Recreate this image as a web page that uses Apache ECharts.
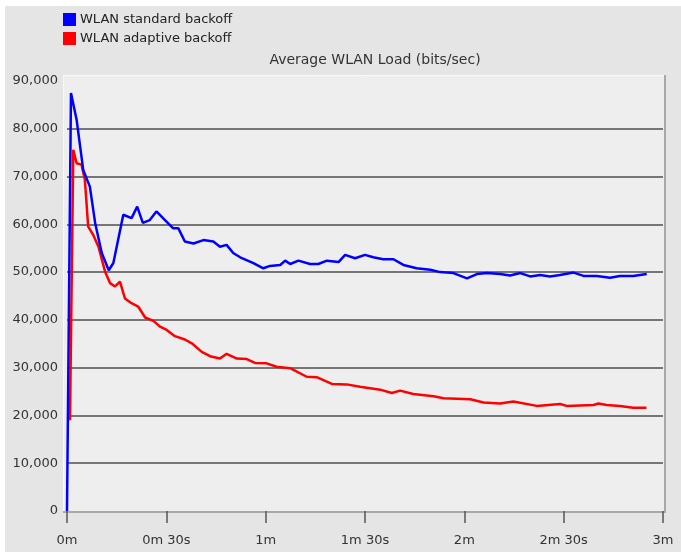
<!DOCTYPE html>
<html>
<head>
<meta charset="utf-8">
<title>Average WLAN Load</title>
<script src="https://cdn.jsdelivr.net/npm/echarts@6/dist/echarts.min.js"></script>
<style>
  html, body { margin: 0; padding: 0; background: #fff; }
  #chart { width: 681px; height: 552px; }
</style>
</head>
<body>
<div id="chart"></div>
<script>
const seriesNames = ['WLAN standard backoff', 'WLAN adaptive backoff']

// time in seconds, load in bits/sec
const standardTimes = [0, 1.2, 2.9, 4.9, 6.9, 8.5, 10.5, 12.6, 14, 17, 19.5, 21.2, 22.9, 25, 27, 29.6, 32, 33.6, 35.6, 38.2, 41.2, 44.2, 46.2, 48.2, 50.2, 52.3, 56.3, 59.3, 61.3, 64.4, 65.9, 67.4, 69.9, 73.4, 75.9, 78.5, 82, 84, 87, 90, 92.5, 95.5, 98.6, 101.6, 105.6, 109.7, 112.7, 116.7, 120.8, 123.8, 126.8, 130.8, 133.8, 136.9, 139.9, 142.9, 145.9, 148.9, 153, 156, 160, 164, 167, 171, 175.1]
const standardLoad = [0, 87500, 81900, 71400, 67900, 60300, 54000, 50400, 51900, 62000, 61300, 63700, 60300, 60900, 62700, 60900, 59200, 59200, 56400, 56000, 56700, 56400, 55300, 55700, 54000, 53100, 51900, 50800, 51300, 51500, 52400, 51700, 52400, 51700, 51700, 52400, 52100, 53600, 52900, 53600, 53100, 52700, 52700, 51500, 50800, 50500, 50000, 49800, 48700, 49600, 49800, 49600, 49300, 49800, 49100, 49400, 49100, 49400, 49900, 49200, 49200, 48800, 49200, 49200, 49600]

const adaptiveTimes = [0.9, 1.9, 2.9, 4.4, 5.4, 6.4, 7.9, 9.5, 11.5, 13, 14.5, 16, 17.5, 19.5, 21.5, 23.6, 26.1, 28.1, 30.1, 32.6, 35.6, 37.7, 40.7, 43.2, 46.2, 48.2, 51.3, 54.3, 56.8, 60.3, 63.3, 67.4, 72.4, 75.4, 80, 84.5, 88.5, 94.6, 98.1, 100.6, 104.6, 110.7, 113.7, 121.8, 125.8, 130.8, 134.8, 141.9, 148.9, 150.9, 159, 160.5, 163, 167, 171, 175]
const adaptiveLoad = [19000, 75600, 72800, 72500, 69300, 59500, 57800, 55300, 50100, 47700, 47000, 48000, 44500, 43500, 42800, 40500, 39800, 38600, 37900, 36600, 35900, 35100, 33300, 32400, 31900, 32900, 31900, 31800, 31000, 30900, 30200, 29900, 28100, 28000, 26600, 26500, 26000, 25400, 24700, 25200, 24500, 24000, 23600, 23400, 22700, 22500, 22900, 22000, 22400, 22000, 22200, 22500, 22200, 22000, 21600, 21600]

const xTicks = [0, 30, 60, 90, 120, 150, 180]

const font = 'DejaVu Sans'

function zip(xs, ys) {
  return xs.map((x, i) => [x, ys[i]])
}

function formatTime(v) {
  const m = Math.floor(v / 60)
  const s = v % 60
  return s ? `${m}m ${s}s` : `${m}m`
}

const chart = echarts.init(document.getElementById('chart'))

chart.setOption({
  animation: false,
  backgroundColor: '#ffffff',
  textStyle: { fontFamily: font },
  graphic: [
    { type: 'rect', z: -20, shape: { x: 5, y: 6, width: 676, height: 546 }, style: { fill: '#e5e5e5' } },
    { type: 'rect', z: -19, shape: { x: 63, y: 75, width: 603, height: 438 }, style: { fill: '#eeeeee' } },
    { type: 'line', z: -18, shape: { x1: 63, y1: 75.5, x2: 666, y2: 75.5 }, style: { stroke: '#f8f8f8', lineWidth: 1 } },
    { type: 'line', z: -18, shape: { x1: 63.5, y1: 75, x2: 63.5, y2: 513 }, style: { stroke: '#f8f8f8', lineWidth: 1 } },
    { type: 'line', z: -18, shape: { x1: 665, y1: 75, x2: 665, y2: 513 }, style: { stroke: '#a8a8a8', lineWidth: 2 } },
    { type: 'line', z: -18, shape: { x1: 63, y1: 512, x2: 666, y2: 512 }, style: { stroke: '#a8a8a8', lineWidth: 2 } },
  ],
  title: {
    text: 'Average WLAN Load (bits/sec)',
    left: 370,
    top: 48,
    textAlign: 'center',
    textStyle: { fontFamily: font, fontSize: 14, fontWeight: 'normal', color: '#333' },
  },
  legend: {
    data: seriesNames,
    orient: 'vertical',
    left: 58,
    top: 8,
    itemWidth: 13,
    itemHeight: 13,
    itemGap: 6,
    icon: 'rect',
    textStyle: { fontFamily: font, fontSize: 13, color: '#222', lineHeight: 13, padding: [0, 0, 0, -1] },
  },
  grid: {
    left: 67,
    right: 18,
    top: 81,
    bottom: 41,
  },
  xAxis: {
    type: 'value',
    min: xTicks[0],
    max: xTicks[xTicks.length - 1],
    interval: 30,
    offset: 4,
    axisLine: { show: false },
    axisTick: { show: true, length: 12, lineStyle: { color: '#555', width: 1.5 } },
    axisLabel: {
      margin: 19,
      fontFamily: font,
      fontSize: 13,
      color: '#333',
      formatter: formatTime,
    },
    splitLine: { show: false },
  },
  yAxis: {
    type: 'value',
    min: 0,
    max: 90000,
    interval: 10000,
    axisLine: { show: false },
    axisTick: { show: false },
    axisLabel: {
      margin: 9,
      fontFamily: font,
      fontSize: 13,
      color: '#333',
      padding: [0, 0, 9, 0],
      formatter: (v) => v.toLocaleString('en-US'),
    },
    splitLine: {
      show: true,
      showMinLine: false,
      showMaxLine: false,
      lineStyle: { color: '#767676', width: 2 },
    },
  },
  series: [
    {
      name: seriesNames[0],
      type: 'line',
      z: 4,
      data: zip(standardTimes, standardLoad),
      showSymbol: false,
      color: '#0000ff',
      lineStyle: { color: '#0000ff', width: 2.5 },
    },
    {
      name: seriesNames[1],
      type: 'line',
      z: 3,
      data: zip(adaptiveTimes, adaptiveLoad),
      showSymbol: false,
      color: '#ff0000',
      lineStyle: { color: '#ff0000', width: 2.5 },
    },
  ],
})
</script>
</body>
</html>
